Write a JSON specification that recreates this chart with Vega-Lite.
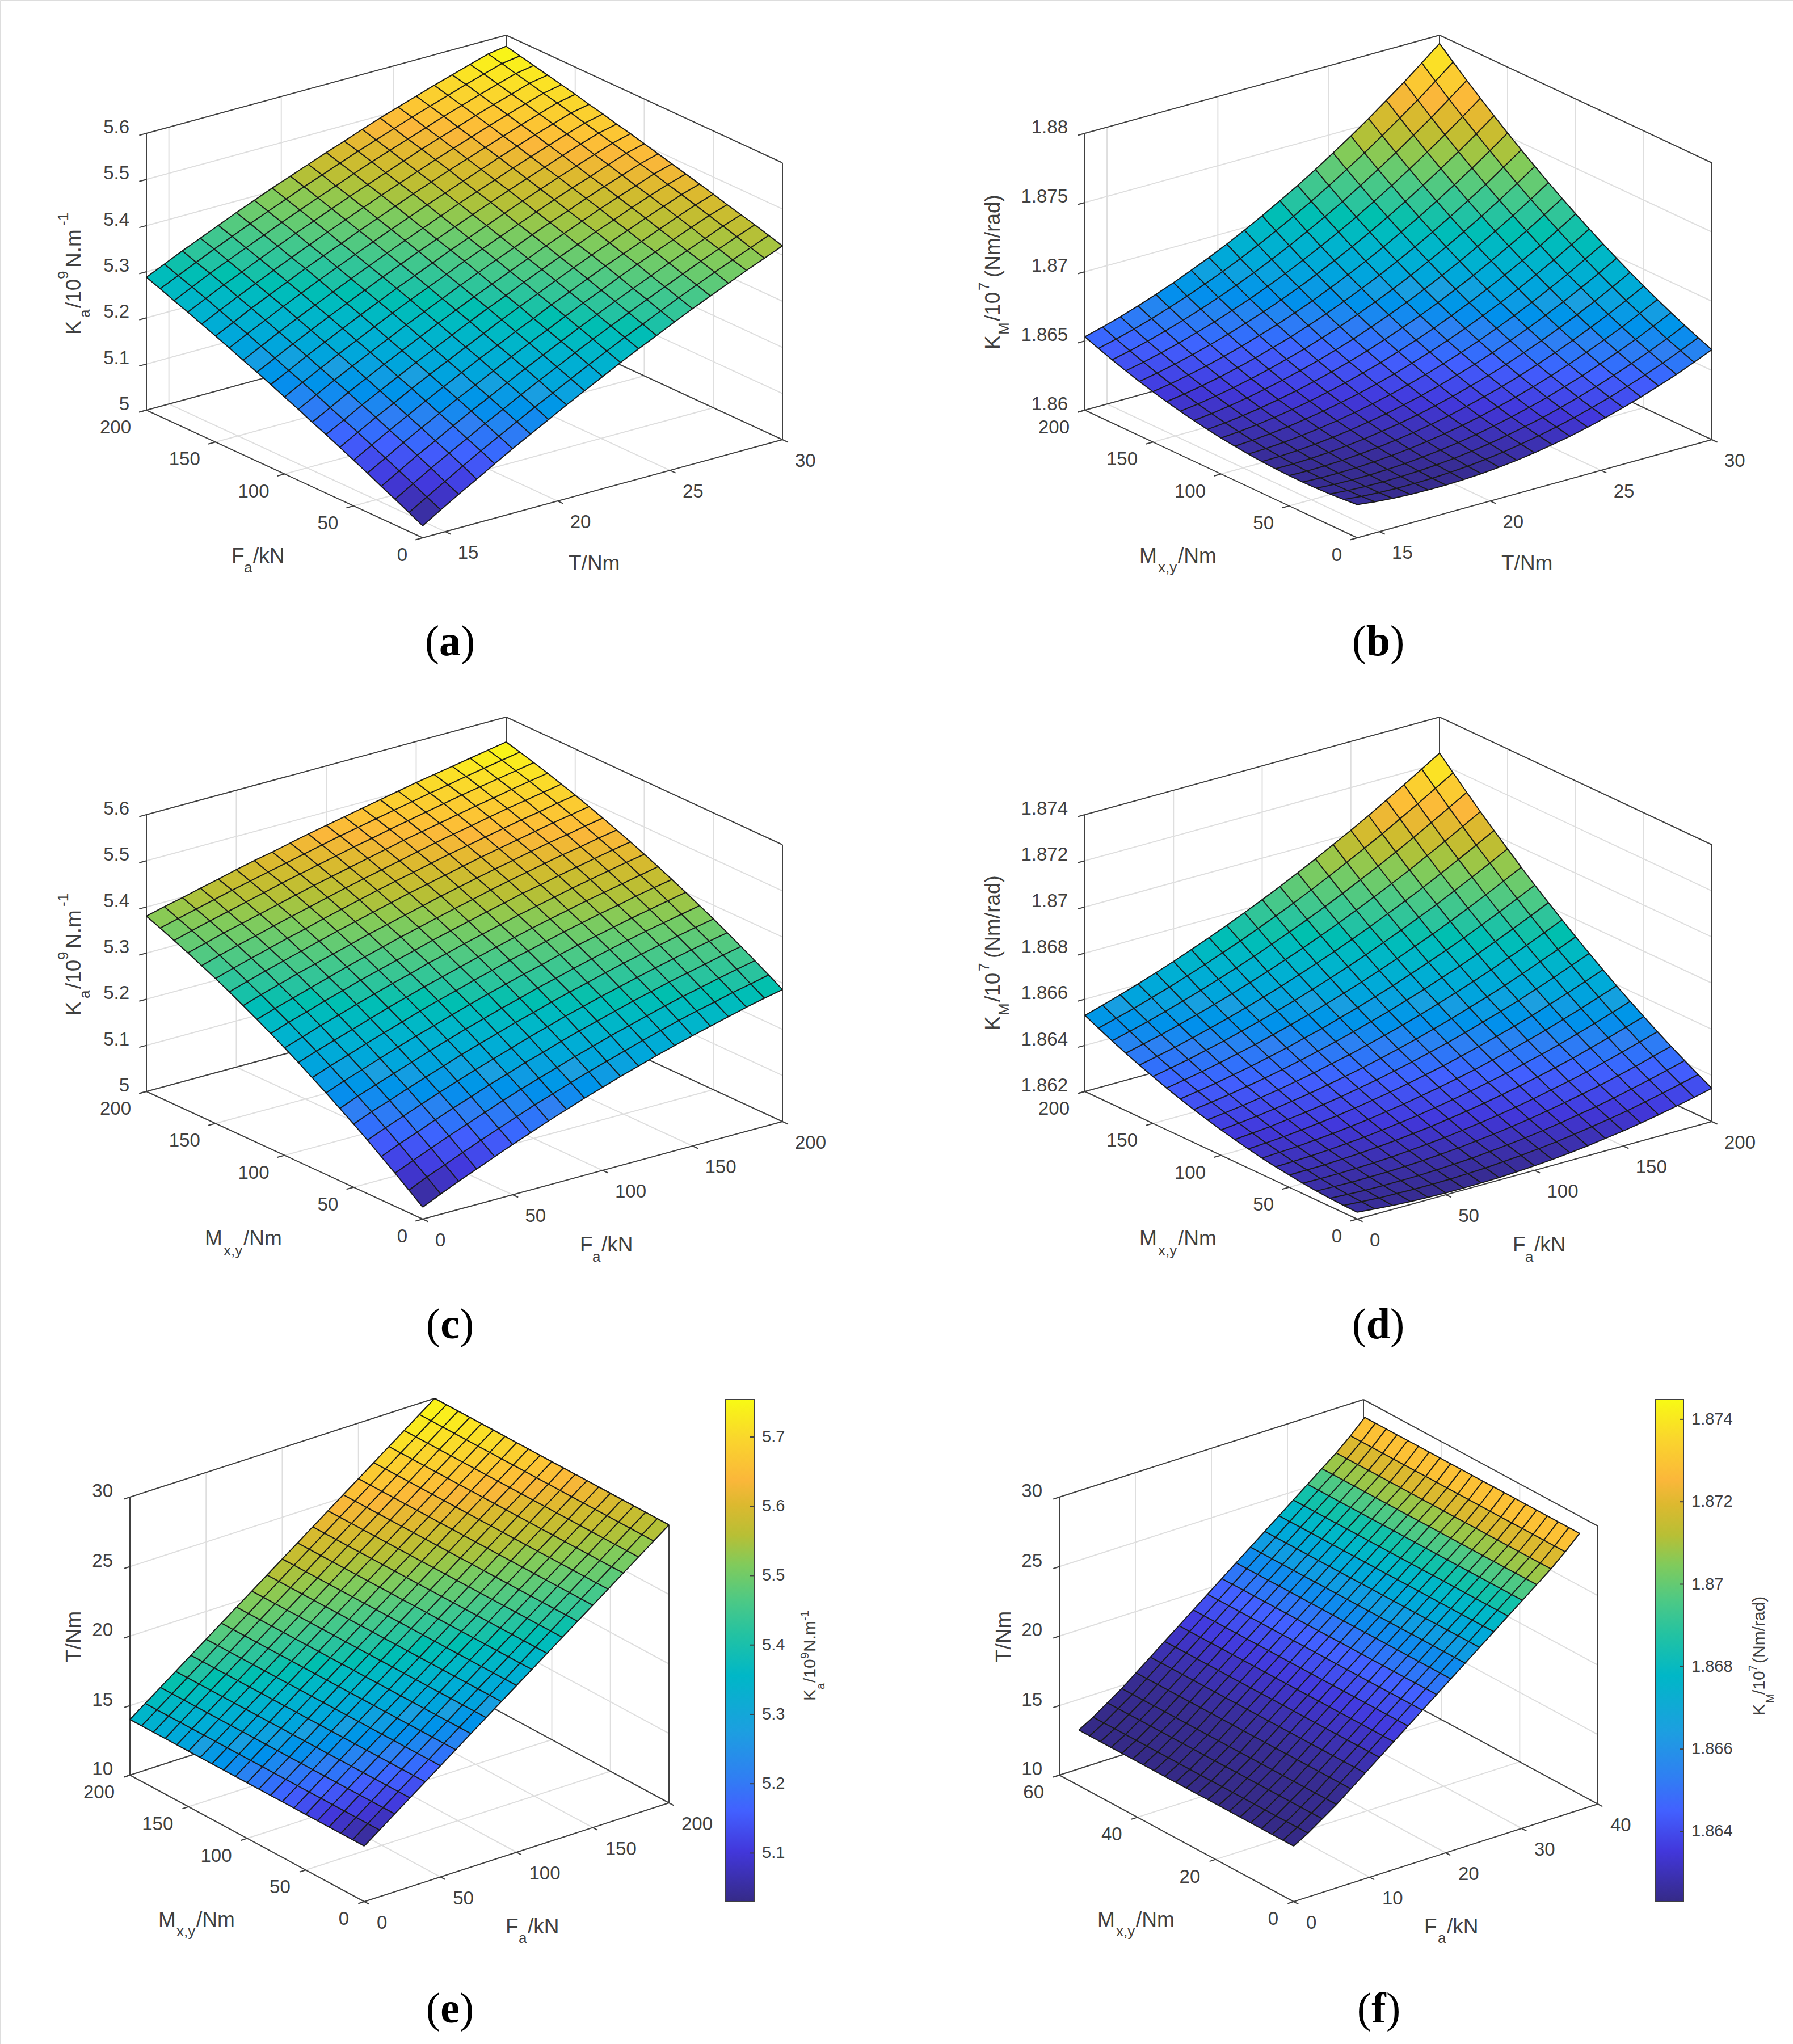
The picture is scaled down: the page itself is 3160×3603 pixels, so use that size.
{"$schema":"https://vega.github.io/schema/vega-lite/v6.json","width":3160,"height":3603,"padding":0,"autosize":"none","background":"white",
"params":[{"name":"P","value":{
"a":{"ox":745,"oy":948,"ux":634,"uy":-173,"vx":-487,"vy":-225,"wy":-488,"x0":14,"x1":30,"y0":0,"y1":200,"z0":5,"z1":5.6,"c0":5.026,"c1":5.576,"ys":10},
"b":{"ox":2392,"oy":948,"ux":625,"uy":-173,"vx":-480,"vy":-225,"wy":-488,"x0":14,"x1":30,"y0":0,"y1":200,"z0":1.86,"z1":1.88,"c0":1.8619,"c1":1.8794,"ys":10},
"c":{"ox":745,"oy":2149,"ux":634,"uy":-172,"vx":-487,"vy":-225,"wy":-488,"x0":0,"x1":200,"y0":0,"y1":200,"z0":5,"z1":5.6,"c0":5.026,"c1":5.546,"ys":10},
"d":{"ox":2392,"oy":2149,"ux":625,"uy":-172,"vx":-480,"vy":-225,"wy":-488,"x0":0,"x1":200,"y0":0,"y1":200,"z0":1.862,"z1":1.874,"c0":1.862,"c1":1.87245,"ys":10},
"e":{"ox":642,"oy":3352,"ux":537,"uy":-174,"vx":-413,"vy":-223,"wy":-490,"x0":0,"x1":200,"y0":0,"y1":200,"z0":10,"z1":30,"c0":5.03,"c1":5.754,"ys":10,"bx0":1278,"bx1":1329,"by0":3352,"by1":2467},
"f":{"ox":2280,"oy":3352,"ux":536,"uy":-172,"vx":-413,"vy":-223,"wy":-490,"x0":0,"x1":40,"y0":0,"y1":60,"z0":10,"z1":30,"c0":1.8623,"c1":1.87448,"ys":2.75,"bx0":2917,"bx1":2967,"by0":3352,"by1":2467}
}}],
"datasets":{
"surf":[
{"p":"a","X":14,"K":[5.026,5.041,5.056,5.07,5.085,5.099,5.113,5.127,5.14,5.154,5.167,5.18,5.193,5.205,5.218,5.23,5.242,5.254,5.265,5.277,5.288]},
{"p":"a","X":14.8,"K":[5.05,5.064,5.079,5.093,5.107,5.121,5.135,5.148,5.161,5.175,5.188,5.2,5.213,5.225,5.238,5.249,5.261,5.273,5.284,5.295,5.306]},
{"p":"a","X":15.6,"K":[5.073,5.087,5.102,5.116,5.13,5.143,5.157,5.17,5.183,5.196,5.208,5.221,5.233,5.245,5.257,5.269,5.28,5.292,5.303,5.313,5.324]},
{"p":"a","X":16.4,"K":[5.095,5.11,5.124,5.137,5.151,5.164,5.177,5.19,5.203,5.216,5.228,5.24,5.252,5.264,5.276,5.287,5.298,5.309,5.32,5.331,5.341]},
{"p":"a","X":17.2,"K":[5.118,5.132,5.145,5.159,5.172,5.185,5.198,5.21,5.223,5.235,5.247,5.259,5.271,5.282,5.294,5.305,5.316,5.327,5.337,5.348,5.358]},
{"p":"a","X":18,"K":[5.14,5.153,5.167,5.18,5.193,5.205,5.218,5.23,5.242,5.254,5.266,5.278,5.289,5.3,5.312,5.323,5.333,5.344,5.354,5.365,5.375]},
{"p":"a","X":18.8,"K":[5.161,5.174,5.187,5.2,5.212,5.225,5.237,5.249,5.261,5.273,5.285,5.296,5.307,5.318,5.329,5.34,5.35,5.361,5.371,5.381,5.391]},
{"p":"a","X":19.6,"K":[5.182,5.195,5.208,5.22,5.232,5.245,5.256,5.268,5.28,5.291,5.303,5.314,5.325,5.335,5.346,5.356,5.367,5.377,5.387,5.397,5.407]},
{"p":"a","X":20.4,"K":[5.203,5.215,5.228,5.24,5.252,5.263,5.275,5.287,5.298,5.309,5.32,5.331,5.342,5.352,5.363,5.373,5.383,5.393,5.403,5.413,5.422]},
{"p":"a","X":21.2,"K":[5.223,5.235,5.247,5.259,5.271,5.282,5.294,5.305,5.316,5.327,5.337,5.348,5.359,5.369,5.379,5.389,5.399,5.409,5.418,5.428,5.437]},
{"p":"a","X":22,"K":[5.243,5.255,5.267,5.278,5.289,5.3,5.312,5.322,5.333,5.344,5.355,5.365,5.375,5.385,5.395,5.405,5.415,5.424,5.434,5.443,5.452]},
{"p":"a","X":22.8,"K":[5.263,5.274,5.286,5.297,5.308,5.319,5.329,5.34,5.35,5.361,5.371,5.381,5.391,5.401,5.411,5.421,5.43,5.439,5.449,5.458,5.466]},
{"p":"a","X":23.6,"K":[5.282,5.293,5.304,5.315,5.326,5.336,5.347,5.357,5.367,5.377,5.387,5.397,5.407,5.417,5.426,5.436,5.445,5.454,5.463,5.472,5.481]},
{"p":"a","X":24.4,"K":[5.3,5.311,5.322,5.333,5.343,5.354,5.364,5.374,5.384,5.394,5.403,5.413,5.423,5.432,5.441,5.451,5.46,5.469,5.477,5.486,5.495]},
{"p":"a","X":25.2,"K":[5.319,5.329,5.34,5.35,5.361,5.371,5.381,5.39,5.4,5.41,5.419,5.429,5.438,5.447,5.456,5.465,5.474,5.483,5.491,5.5,5.508]},
{"p":"a","X":26,"K":[5.337,5.347,5.357,5.367,5.378,5.387,5.397,5.407,5.416,5.425,5.435,5.444,5.453,5.462,5.471,5.479,5.488,5.496,5.505,5.513,5.521]},
{"p":"a","X":26.8,"K":[5.354,5.364,5.374,5.384,5.394,5.403,5.413,5.422,5.432,5.441,5.45,5.459,5.467,5.476,5.485,5.493,5.502,5.51,5.518,5.526,5.534]},
{"p":"a","X":27.6,"K":[5.371,5.381,5.391,5.4,5.41,5.419,5.429,5.438,5.447,5.456,5.464,5.473,5.482,5.49,5.499,5.507,5.515,5.523,5.531,5.539,5.546]},
{"p":"a","X":28.4,"K":[5.388,5.397,5.407,5.416,5.426,5.435,5.444,5.453,5.461,5.47,5.479,5.487,5.496,5.504,5.512,5.52,5.528,5.535,5.543,5.551,5.558]},
{"p":"a","X":29.2,"K":[5.404,5.413,5.423,5.432,5.441,5.45,5.459,5.467,5.476,5.484,5.493,5.501,5.509,5.517,5.525,5.533,5.54,5.548,5.555,5.563,5.57]},
{"p":"a","X":30,"K":[5.42,5.429,5.438,5.446,5.454,5.463,5.471,5.479,5.487,5.495,5.503,5.511,5.518,5.526,5.533,5.541,5.548,5.555,5.562,5.569,5.576]},
{"p":"b","X":14,"K":[1.8624,1.86231,1.86224,1.8622,1.86218,1.86219,1.86222,1.86228,1.86236,1.86247,1.8626,1.86276,1.86294,1.86315,1.86338,1.86364,1.86392,1.86423,1.86456,1.86492,1.8653]},
{"p":"b","X":14.8,"K":[1.86225,1.86218,1.86214,1.86212,1.86213,1.86216,1.86222,1.8623,1.86241,1.86254,1.8627,1.86288,1.86309,1.86332,1.86358,1.86386,1.86417,1.8645,1.86486,1.86524,1.86565]},
{"p":"b","X":15.6,"K":[1.86214,1.8621,1.86208,1.86209,1.86212,1.86218,1.86226,1.86237,1.8625,1.86266,1.86284,1.86305,1.86328,1.86354,1.86382,1.86413,1.86446,1.86482,1.8652,1.86561,1.86604]},
{"p":"b","X":16.4,"K":[1.86207,1.86205,1.86206,1.86209,1.86215,1.86223,1.86234,1.86247,1.86263,1.86281,1.86302,1.86325,1.86351,1.86379,1.8641,1.86443,1.86479,1.86517,1.86558,1.86601,1.86647]},
{"p":"b","X":17.2,"K":[1.86204,1.86205,1.86208,1.86214,1.86222,1.86233,1.86246,1.86262,1.8628,1.86301,1.86324,1.8635,1.86378,1.86409,1.86442,1.86478,1.86516,1.86557,1.866,1.86646,1.86694]},
{"p":"b","X":18,"K":[1.86204,1.86207,1.86213,1.86221,1.86232,1.86245,1.86261,1.86279,1.863,1.86323,1.86349,1.86377,1.86408,1.86441,1.86477,1.86515,1.86556,1.86599,1.86645,1.86693,1.86744]},
{"p":"b","X":18.8,"K":[1.86208,1.86214,1.86222,1.86233,1.86246,1.86262,1.8628,1.86301,1.86324,1.8635,1.86378,1.86409,1.86442,1.86478,1.86516,1.86557,1.866,1.86646,1.86694,1.86745,1.86798]},
{"p":"b","X":19.6,"K":[1.86215,1.86223,1.86234,1.86247,1.86263,1.86281,1.86302,1.86325,1.86351,1.86379,1.8641,1.86443,1.86479,1.86517,1.86558,1.86601,1.86647,1.86695,1.86746,1.86799,1.86855]},
{"p":"b","X":20.4,"K":[1.86226,1.86237,1.8625,1.86266,1.86284,1.86305,1.86328,1.86354,1.86382,1.86413,1.86446,1.86482,1.8652,1.86561,1.86604,1.8665,1.86698,1.86749,1.86802,1.86858,1.86916]},
{"p":"b","X":21.2,"K":[1.86241,1.86254,1.8627,1.86288,1.86309,1.86332,1.86358,1.86386,1.86417,1.8645,1.86486,1.86524,1.86565,1.86608,1.86654,1.86702,1.86753,1.86806,1.86862,1.8692,1.86981]},
{"p":"b","X":22,"K":[1.8626,1.86276,1.86294,1.86315,1.86338,1.86364,1.86392,1.86423,1.86456,1.86492,1.8653,1.86571,1.86614,1.8666,1.86708,1.86759,1.86812,1.86868,1.86926,1.86987,1.8705]},
{"p":"b","X":22.8,"K":[1.86283,1.86301,1.86322,1.86345,1.86371,1.86399,1.8643,1.86463,1.86499,1.86537,1.86578,1.86621,1.86667,1.86715,1.86766,1.86819,1.86875,1.86933,1.86994,1.87057,1.87123]},
{"p":"b","X":23.6,"K":[1.86308,1.86329,1.86352,1.86378,1.86406,1.86437,1.8647,1.86506,1.86544,1.86585,1.86628,1.86674,1.86722,1.86773,1.86826,1.86882,1.8694,1.87001,1.87064,1.8713,1.87198]},
{"p":"b","X":24.4,"K":[1.86338,1.86361,1.86387,1.86415,1.86446,1.86479,1.86515,1.86553,1.86594,1.86637,1.86683,1.86731,1.86782,1.86835,1.86891,1.86949,1.8701,1.87073,1.87139,1.87207,1.87278]},
{"p":"b","X":25.2,"K":[1.86372,1.86398,1.86426,1.86457,1.8649,1.86526,1.86564,1.86605,1.86648,1.86694,1.86742,1.86793,1.86846,1.86902,1.8696,1.87021,1.87084,1.8715,1.87218,1.87289,1.87362]},
{"p":"b","X":26,"K":[1.86409,1.86437,1.86468,1.86501,1.86537,1.86575,1.86616,1.86659,1.86705,1.86753,1.86804,1.86857,1.86913,1.86971,1.87032,1.87095,1.87161,1.87229,1.873,1.87373,1.87449]},
{"p":"b","X":26.8,"K":[1.8645,1.86481,1.86514,1.8655,1.86588,1.86629,1.86672,1.86718,1.86766,1.86817,1.8687,1.86926,1.86984,1.87045,1.87108,1.87174,1.87242,1.87313,1.87386,1.87462,1.8754]},
{"p":"b","X":27.6,"K":[1.86495,1.86528,1.86564,1.86602,1.86643,1.86686,1.86732,1.8678,1.86831,1.86884,1.8694,1.86998,1.87059,1.87122,1.87188,1.87256,1.87327,1.874,1.87476,1.87554,1.87635]},
{"p":"b","X":28.4,"K":[1.86542,1.86578,1.86616,1.86657,1.867,1.86746,1.86794,1.86846,1.86898,1.86954,1.87012,1.87073,1.87136,1.87202,1.8727,1.87341,1.87414,1.8749,1.87568,1.87649,1.87732]},
{"p":"b","X":29.2,"K":[1.86595,1.86633,1.86673,1.86717,1.86763,1.86811,1.86862,1.86915,1.86971,1.87029,1.8709,1.87153,1.87219,1.87287,1.87358,1.87431,1.87507,1.87585,1.87666,1.87749,1.87835]},
{"p":"b","X":30,"K":[1.8665,1.86691,1.86734,1.8678,1.86828,1.86879,1.86932,1.86988,1.87046,1.87107,1.8717,1.87236,1.87304,1.87375,1.87448,1.87524,1.87602,1.87683,1.87766,1.87852,1.8794]},
{"p":"c","X":0,"K":[5.026,5.049,5.072,5.094,5.116,5.137,5.157,5.177,5.196,5.215,5.233,5.25,5.267,5.283,5.299,5.314,5.328,5.342,5.355,5.368,5.38]},
{"p":"c","X":10,"K":[5.044,5.067,5.089,5.111,5.132,5.153,5.173,5.192,5.211,5.229,5.246,5.264,5.28,5.296,5.311,5.326,5.34,5.353,5.366,5.378,5.39]},
{"p":"c","X":20,"K":[5.061,5.083,5.105,5.126,5.147,5.167,5.187,5.206,5.224,5.242,5.26,5.276,5.292,5.308,5.323,5.337,5.351,5.364,5.376,5.388,5.399]},
{"p":"c","X":30,"K":[5.077,5.099,5.121,5.142,5.162,5.182,5.201,5.22,5.238,5.255,5.272,5.289,5.304,5.32,5.334,5.348,5.361,5.374,5.386,5.398,5.409]},
{"p":"c","X":40,"K":[5.093,5.115,5.136,5.157,5.177,5.196,5.215,5.234,5.251,5.268,5.285,5.301,5.316,5.331,5.345,5.359,5.372,5.384,5.396,5.408,5.418]},
{"p":"c","X":50,"K":[5.109,5.13,5.151,5.171,5.191,5.21,5.229,5.247,5.264,5.281,5.297,5.313,5.328,5.342,5.356,5.369,5.382,5.394,5.406,5.417,5.428]},
{"p":"c","X":60,"K":[5.124,5.145,5.166,5.186,5.205,5.224,5.242,5.259,5.277,5.293,5.309,5.324,5.339,5.353,5.367,5.38,5.392,5.404,5.416,5.426,5.437]},
{"p":"c","X":70,"K":[5.139,5.16,5.18,5.199,5.218,5.237,5.255,5.272,5.289,5.305,5.32,5.335,5.35,5.364,5.377,5.39,5.402,5.414,5.425,5.435,5.445]},
{"p":"c","X":80,"K":[5.153,5.173,5.193,5.213,5.231,5.249,5.267,5.284,5.3,5.316,5.332,5.346,5.361,5.374,5.387,5.4,5.412,5.423,5.434,5.444,5.454]},
{"p":"c","X":90,"K":[5.167,5.187,5.206,5.225,5.244,5.262,5.279,5.296,5.312,5.327,5.342,5.357,5.371,5.384,5.397,5.41,5.421,5.432,5.443,5.453,5.463]},
{"p":"c","X":100,"K":[5.18,5.2,5.219,5.238,5.256,5.273,5.29,5.307,5.323,5.338,5.353,5.367,5.381,5.394,5.407,5.419,5.43,5.441,5.452,5.462,5.471]},
{"p":"c","X":110,"K":[5.193,5.212,5.231,5.25,5.268,5.285,5.302,5.318,5.334,5.349,5.363,5.377,5.391,5.404,5.416,5.428,5.439,5.45,5.46,5.47,5.479]},
{"p":"c","X":120,"K":[5.205,5.224,5.243,5.261,5.279,5.296,5.312,5.328,5.344,5.359,5.373,5.387,5.4,5.413,5.425,5.437,5.448,5.459,5.469,5.478,5.487]},
{"p":"c","X":130,"K":[5.217,5.236,5.254,5.272,5.29,5.306,5.323,5.339,5.354,5.369,5.383,5.396,5.41,5.422,5.434,5.446,5.457,5.467,5.477,5.486,5.495]},
{"p":"c","X":140,"K":[5.228,5.247,5.265,5.283,5.3,5.317,5.333,5.349,5.364,5.378,5.392,5.406,5.419,5.431,5.443,5.454,5.465,5.475,5.485,5.494,5.503]},
{"p":"c","X":150,"K":[5.239,5.258,5.276,5.293,5.31,5.327,5.343,5.358,5.373,5.387,5.401,5.414,5.427,5.439,5.451,5.462,5.473,5.483,5.493,5.502,5.511]},
{"p":"c","X":160,"K":[5.249,5.268,5.286,5.303,5.32,5.336,5.352,5.367,5.382,5.396,5.41,5.423,5.436,5.448,5.459,5.47,5.481,5.491,5.501,5.509,5.518]},
{"p":"c","X":170,"K":[5.259,5.277,5.295,5.312,5.329,5.345,5.361,5.376,5.39,5.404,5.418,5.431,5.444,5.456,5.467,5.478,5.489,5.498,5.508,5.517,5.525]},
{"p":"c","X":180,"K":[5.269,5.287,5.304,5.321,5.338,5.354,5.369,5.384,5.399,5.412,5.426,5.439,5.451,5.463,5.475,5.485,5.496,5.506,5.515,5.524,5.532]},
{"p":"c","X":190,"K":[5.278,5.295,5.313,5.33,5.346,5.362,5.377,5.392,5.407,5.42,5.434,5.447,5.459,5.471,5.482,5.493,5.503,5.513,5.522,5.531,5.539]},
{"p":"c","X":200,"K":[5.286,5.304,5.321,5.338,5.354,5.37,5.385,5.4,5.414,5.428,5.441,5.454,5.466,5.478,5.489,5.5,5.51,5.52,5.529,5.538,5.546]},
{"p":"d","X":0,"K":[1.8623,1.86232,1.86235,1.86239,1.86245,1.86253,1.86261,1.86271,1.86283,1.86296,1.8631,1.86326,1.86343,1.86361,1.86381,1.86403,1.86425,1.86449,1.86475,1.86502,1.8653]},
{"p":"d","X":10,"K":[1.86223,1.86227,1.86231,1.86237,1.86244,1.86254,1.86263,1.86275,1.86288,1.86303,1.86318,1.86336,1.86354,1.86374,1.86395,1.86419,1.86442,1.86468,1.86495,1.86524,1.86553]},
{"p":"d","X":20,"K":[1.86217,1.86222,1.86228,1.86235,1.86244,1.86255,1.86266,1.86279,1.86294,1.8631,1.86327,1.86346,1.86366,1.86387,1.8641,1.86435,1.8646,1.86487,1.86516,1.86546,1.86577]},
{"p":"d","X":30,"K":[1.86213,1.8622,1.86227,1.86236,1.86246,1.86259,1.86271,1.86286,1.86302,1.8632,1.86338,1.86359,1.8638,1.86403,1.86427,1.86454,1.8648,1.86509,1.86539,1.86571,1.86603]},
{"p":"d","X":40,"K":[1.8621,1.86218,1.86227,1.86237,1.86249,1.86263,1.86277,1.86293,1.86311,1.8633,1.8635,1.86372,1.86395,1.86419,1.86445,1.86473,1.86501,1.86531,1.86563,1.86596,1.8663]},
{"p":"d","X":50,"K":[1.86208,1.86218,1.86228,1.8624,1.86253,1.86269,1.86284,1.86302,1.86321,1.86342,1.86363,1.86387,1.86411,1.86437,1.86464,1.86494,1.86523,1.86555,1.86588,1.86623,1.86658]},
{"p":"d","X":60,"K":[1.86208,1.86219,1.86231,1.86244,1.86259,1.86276,1.86293,1.86312,1.86333,1.86355,1.86378,1.86403,1.86429,1.86456,1.86485,1.86516,1.86547,1.8658,1.86615,1.86651,1.86688]},
{"p":"d","X":70,"K":[1.86209,1.86222,1.86235,1.8625,1.86266,1.86285,1.86303,1.86324,1.86346,1.8637,1.86394,1.86421,1.86448,1.86477,1.86507,1.8654,1.86572,1.86607,1.86643,1.86681,1.86719]},
{"p":"d","X":80,"K":[1.86211,1.86225,1.8624,1.86256,1.86274,1.86294,1.86314,1.86336,1.8636,1.86385,1.86411,1.86439,1.86468,1.86498,1.8653,1.86564,1.86598,1.86634,1.86672,1.86711,1.86751]},
{"p":"d","X":90,"K":[1.86215,1.86231,1.86247,1.86265,1.86284,1.86306,1.86327,1.86351,1.86376,1.86403,1.8643,1.8646,1.8649,1.86522,1.86555,1.86591,1.86626,1.86664,1.86703,1.86744,1.86785]},
{"p":"d","X":100,"K":[1.8622,1.86237,1.86255,1.86274,1.86295,1.86318,1.86341,1.86366,1.86393,1.86421,1.8645,1.86481,1.86513,1.86546,1.86581,1.86618,1.86655,1.86694,1.86735,1.86777,1.8682]},
{"p":"d","X":110,"K":[1.86226,1.86245,1.86264,1.86285,1.86307,1.86332,1.86356,1.86383,1.86411,1.86441,1.86471,1.86504,1.86537,1.86572,1.86608,1.86647,1.86685,1.86726,1.86768,1.86812,1.86856]},
{"p":"d","X":120,"K":[1.86234,1.86254,1.86275,1.86297,1.86321,1.86347,1.86373,1.86401,1.86431,1.86462,1.86494,1.86528,1.86563,1.86599,1.86637,1.86677,1.86717,1.86759,1.86803,1.86848,1.86894]},
{"p":"d","X":130,"K":[1.86243,1.86265,1.86287,1.86311,1.86336,1.86364,1.86391,1.86421,1.86452,1.86485,1.86518,1.86554,1.8659,1.86628,1.86667,1.86709,1.8675,1.86794,1.86839,1.86886,1.86933]},
{"p":"d","X":140,"K":[1.86254,1.86277,1.86301,1.86326,1.86353,1.86382,1.86411,1.86442,1.86475,1.86509,1.86544,1.86581,1.86619,1.86658,1.86699,1.86742,1.86785,1.8683,1.86877,1.86925,1.86974]},
{"p":"d","X":150,"K":[1.86265,1.8629,1.86315,1.86342,1.8637,1.86401,1.86431,1.86464,1.86498,1.86534,1.8657,1.86609,1.86648,1.86689,1.86731,1.86776,1.8682,1.86867,1.86915,1.86965,1.87015]},
{"p":"d","X":160,"K":[1.86278,1.86304,1.86331,1.86359,1.86389,1.86421,1.86453,1.86487,1.86523,1.8656,1.86598,1.86638,1.86679,1.86721,1.86765,1.86811,1.86857,1.86905,1.86955,1.87006,1.87058]},
{"p":"d","X":170,"K":[1.86293,1.86321,1.86349,1.86379,1.8641,1.86444,1.86477,1.86513,1.8655,1.86589,1.86628,1.8667,1.86712,1.86756,1.86801,1.86849,1.86896,1.86946,1.86997,1.8705,1.87103]},
{"p":"d","X":180,"K":[1.86309,1.86338,1.86368,1.86399,1.86432,1.86467,1.86502,1.86539,1.86578,1.86618,1.86659,1.86702,1.86746,1.86791,1.86838,1.86887,1.86936,1.86987,1.8704,1.87094,1.87149]},
{"p":"d","X":190,"K":[1.86326,1.86357,1.86388,1.86421,1.86455,1.86492,1.86528,1.86567,1.86607,1.86649,1.86691,1.86736,1.86781,1.86828,1.86876,1.86927,1.86977,1.8703,1.87084,1.8714,1.87196]},
{"p":"d","X":200,"K":[1.86344,1.86376,1.86409,1.86443,1.86479,1.86517,1.86555,1.86595,1.86637,1.8668,1.86724,1.8677,1.86817,1.86865,1.86915,1.86967,1.87019,1.87073,1.87129,1.87186,1.87244]},
{"p":"e","X":0,"T":14,"K":[5.03,5.05,5.06,5.08,5.1,5.11,5.13,5.15,5.16,5.18,5.19,5.21,5.23,5.24,5.26,5.27,5.28,5.3,5.31,5.33,5.34]},
{"p":"e","X":10,"T":14.8,"K":[5.06,5.07,5.09,5.11,5.12,5.14,5.16,5.17,5.19,5.2,5.22,5.24,5.25,5.27,5.28,5.3,5.31,5.33,5.34,5.35,5.37]},
{"p":"e","X":20,"T":15.6,"K":[5.09,5.1,5.12,5.14,5.15,5.17,5.18,5.2,5.22,5.23,5.25,5.26,5.28,5.29,5.31,5.32,5.34,5.35,5.37,5.38,5.39]},
{"p":"e","X":30,"T":16.4,"K":[5.11,5.13,5.15,5.16,5.18,5.2,5.21,5.23,5.24,5.26,5.27,5.29,5.3,5.32,5.33,5.35,5.36,5.38,5.39,5.41,5.42]},
{"p":"e","X":40,"T":17.2,"K":[5.14,5.16,5.17,5.19,5.21,5.22,5.24,5.25,5.27,5.28,5.3,5.31,5.33,5.34,5.36,5.37,5.39,5.4,5.42,5.43,5.45]},
{"p":"e","X":50,"T":18,"K":[5.17,5.18,5.2,5.22,5.23,5.25,5.26,5.28,5.29,5.31,5.32,5.34,5.35,5.37,5.38,5.4,5.41,5.42,5.44,5.45,5.47]},
{"p":"e","X":60,"T":18.8,"K":[5.2,5.21,5.23,5.24,5.26,5.27,5.29,5.3,5.32,5.33,5.35,5.36,5.38,5.39,5.41,5.42,5.43,5.45,5.46,5.48,5.49]},
{"p":"e","X":70,"T":19.6,"K":[5.22,5.24,5.25,5.27,5.28,5.3,5.31,5.33,5.34,5.36,5.37,5.39,5.4,5.42,5.43,5.44,5.46,5.47,5.49,5.5,5.51]},
{"p":"e","X":80,"T":20.4,"K":[5.25,5.27,5.28,5.3,5.31,5.33,5.34,5.36,5.37,5.38,5.4,5.41,5.43,5.44,5.45,5.47,5.48,5.49,5.51,5.52,5.53]},
{"p":"e","X":90,"T":21.2,"K":[5.28,5.29,5.31,5.32,5.34,5.35,5.36,5.38,5.39,5.41,5.42,5.43,5.45,5.46,5.47,5.49,5.5,5.51,5.53,5.54,5.55]},
{"p":"e","X":100,"T":22,"K":[5.31,5.32,5.33,5.35,5.36,5.38,5.39,5.4,5.42,5.43,5.44,5.46,5.47,5.48,5.5,5.51,5.52,5.54,5.55,5.56,5.57]},
{"p":"e","X":110,"T":22.8,"K":[5.33,5.35,5.36,5.37,5.39,5.4,5.41,5.43,5.44,5.45,5.47,5.48,5.49,5.51,5.52,5.53,5.54,5.56,5.57,5.58,5.59]},
{"p":"e","X":120,"T":23.6,"K":[5.36,5.37,5.38,5.4,5.41,5.43,5.44,5.45,5.47,5.48,5.49,5.5,5.52,5.53,5.54,5.55,5.57,5.58,5.59,5.6,5.61]},
{"p":"e","X":130,"T":24.4,"K":[5.38,5.4,5.41,5.42,5.44,5.45,5.46,5.48,5.49,5.5,5.51,5.53,5.54,5.55,5.56,5.58,5.59,5.6,5.61,5.62,5.63]},
{"p":"e","X":140,"T":25.2,"K":[5.41,5.42,5.44,5.45,5.46,5.48,5.49,5.5,5.51,5.53,5.54,5.55,5.56,5.57,5.59,5.6,5.61,5.62,5.63,5.64,5.65]},
{"p":"e","X":150,"T":26,"K":[5.44,5.45,5.46,5.47,5.49,5.5,5.51,5.52,5.54,5.55,5.56,5.57,5.58,5.6,5.61,5.62,5.63,5.64,5.65,5.66,5.67]},
{"p":"e","X":160,"T":26.8,"K":[5.46,5.47,5.49,5.5,5.51,5.52,5.53,5.55,5.56,5.57,5.58,5.59,5.61,5.62,5.63,5.64,5.65,5.66,5.67,5.68,5.69]},
{"p":"e","X":170,"T":27.6,"K":[5.49,5.5,5.51,5.52,5.53,5.55,5.56,5.57,5.58,5.59,5.6,5.62,5.63,5.64,5.65,5.66,5.67,5.68,5.69,5.7,5.71]},
{"p":"e","X":180,"T":28.4,"K":[5.51,5.52,5.53,5.55,5.56,5.57,5.58,5.59,5.6,5.61,5.63,5.64,5.65,5.66,5.67,5.68,5.69,5.7,5.71,5.72,5.73]},
{"p":"e","X":190,"T":29.2,"K":[5.54,5.55,5.56,5.57,5.58,5.59,5.6,5.61,5.63,5.64,5.65,5.66,5.67,5.68,5.69,5.7,5.71,5.72,5.73,5.73,5.74]},
{"p":"e","X":200,"T":30,"K":[5.56,5.57,5.58,5.59,5.6,5.62,5.63,5.64,5.65,5.66,5.67,5.68,5.69,5.7,5.71,5.72,5.72,5.73,5.74,5.74,5.75]},
{"p":"f","X":0,"T":14,"K":[1.8623,1.8623,1.8623,1.8623,1.8623,1.8623,1.8623,1.8623,1.8623,1.8623,1.8623,1.8623,1.8623,1.8623,1.8623,1.8623,1.8623,1.8623,1.8623,1.8623,1.8623]},
{"p":"f","X":1.88,"T":14.6,"K":[1.8623,1.8623,1.8623,1.8623,1.8623,1.8623,1.8623,1.8623,1.8623,1.8623,1.8623,1.8623,1.8623,1.8623,1.8623,1.8623,1.8623,1.8623,1.8623,1.8623,1.8623]},
{"p":"f","X":3.76,"T":15.3,"K":[1.8624,1.8624,1.8624,1.8624,1.8624,1.8624,1.8624,1.8624,1.8624,1.8624,1.8624,1.8624,1.8624,1.8624,1.8624,1.8624,1.8624,1.8624,1.8624,1.8624,1.8624]},
{"p":"f","X":5.64,"T":16,"K":[1.8624,1.8624,1.8624,1.8624,1.8624,1.8624,1.8624,1.8624,1.8624,1.8624,1.8624,1.8624,1.8624,1.8624,1.8624,1.8624,1.8624,1.8624,1.8624,1.8624,1.8624]},
{"p":"f","X":7.52,"T":16.8,"K":[1.8625,1.8625,1.8625,1.8625,1.8625,1.8625,1.8625,1.8625,1.8625,1.8625,1.8625,1.8625,1.8625,1.8625,1.8625,1.8625,1.8625,1.8625,1.8625,1.8625,1.8625]},
{"p":"f","X":9.4,"T":17.6,"K":[1.8628,1.8628,1.8628,1.8628,1.8628,1.8628,1.8628,1.8628,1.8628,1.8628,1.8628,1.8628,1.8628,1.8628,1.8628,1.8628,1.8628,1.8628,1.8628,1.8628,1.8628]},
{"p":"f","X":11.28,"T":18.4,"K":[1.863,1.863,1.863,1.863,1.863,1.863,1.863,1.863,1.863,1.863,1.863,1.863,1.863,1.863,1.863,1.863,1.863,1.863,1.863,1.863,1.863]},
{"p":"f","X":13.16,"T":19.2,"K":[1.8634,1.8634,1.8634,1.8634,1.8634,1.8634,1.8634,1.8634,1.8634,1.8634,1.8634,1.8634,1.8634,1.8634,1.8634,1.8634,1.8634,1.8634,1.8634,1.8634,1.8634]},
{"p":"f","X":15.04,"T":20,"K":[1.8638,1.8638,1.8638,1.8638,1.8638,1.8638,1.8638,1.8638,1.8638,1.8638,1.8638,1.8638,1.8638,1.8638,1.8638,1.8638,1.8638,1.8638,1.8638,1.8638,1.8638]},
{"p":"f","X":16.92,"T":20.8,"K":[1.8643,1.8643,1.8643,1.8643,1.8643,1.8643,1.8643,1.8643,1.8643,1.8643,1.8643,1.8643,1.8643,1.8643,1.8643,1.8643,1.8643,1.8643,1.8643,1.8643,1.8643]},
{"p":"f","X":18.8,"T":21.6,"K":[1.8647,1.8647,1.8647,1.8647,1.8647,1.8647,1.8647,1.8647,1.8647,1.8647,1.8647,1.8647,1.8647,1.8647,1.8647,1.8647,1.8647,1.8647,1.8647,1.8647,1.8647]},
{"p":"f","X":20.68,"T":22.4,"K":[1.8654,1.8654,1.8654,1.8654,1.8654,1.8654,1.8654,1.8654,1.8654,1.8654,1.8654,1.8654,1.8654,1.8654,1.8654,1.8654,1.8654,1.8654,1.8654,1.8654,1.8654]},
{"p":"f","X":22.56,"T":23.2,"K":[1.866,1.866,1.866,1.866,1.866,1.866,1.866,1.866,1.866,1.866,1.866,1.866,1.866,1.866,1.866,1.866,1.866,1.866,1.866,1.866,1.866]},
{"p":"f","X":24.44,"T":24,"K":[1.8666,1.8666,1.8666,1.8666,1.8666,1.8666,1.8666,1.8666,1.8666,1.8666,1.8666,1.8666,1.8666,1.8666,1.8666,1.8666,1.8666,1.8666,1.8666,1.8666,1.8666]},
{"p":"f","X":26.32,"T":24.8,"K":[1.8673,1.8673,1.8673,1.8673,1.8673,1.8673,1.8673,1.8673,1.8673,1.8673,1.8673,1.8673,1.8673,1.8673,1.8673,1.8673,1.8673,1.8673,1.8673,1.8673,1.8673]},
{"p":"f","X":28.2,"T":25.6,"K":[1.8682,1.8682,1.8682,1.8682,1.8682,1.8682,1.8682,1.8682,1.8682,1.8682,1.8682,1.8682,1.8682,1.8682,1.8682,1.8682,1.8682,1.8682,1.8682,1.8682,1.8682]},
{"p":"f","X":30.08,"T":26.4,"K":[1.869,1.869,1.869,1.869,1.869,1.869,1.869,1.869,1.869,1.869,1.869,1.869,1.869,1.869,1.869,1.869,1.869,1.869,1.869,1.869,1.869]},
{"p":"f","X":31.96,"T":27.2,"K":[1.8702,1.8702,1.8702,1.8702,1.8702,1.8702,1.8702,1.8702,1.8702,1.8702,1.8702,1.8702,1.8702,1.8702,1.8702,1.8702,1.8702,1.8702,1.8702,1.8702,1.8702]},
{"p":"f","X":33.84,"T":28,"K":[1.8714,1.8714,1.8714,1.8714,1.8714,1.8714,1.8714,1.8714,1.8714,1.8714,1.8714,1.8714,1.8714,1.8714,1.8714,1.8714,1.8714,1.8714,1.8714,1.8714,1.8714]},
{"p":"f","X":35.72,"T":28.9,"K":[1.8724,1.8724,1.8724,1.8724,1.8724,1.8724,1.8724,1.8724,1.8724,1.8724,1.8724,1.8724,1.8724,1.8724,1.8724,1.8724,1.8724,1.8724,1.8724,1.8724,1.8724]},
{"p":"f","X":37.6,"T":29.9,"K":[1.8733,1.8733,1.8733,1.8733,1.8733,1.8733,1.8733,1.8733,1.8733,1.8733,1.8733,1.8733,1.8733,1.8733,1.8733,1.8733,1.8733,1.8733,1.8733,1.8733,1.8733]}
],
"panels":[{"p":"a"},{"p":"b"},{"p":"c"},{"p":"d"},{"p":"e"},{"p":"f"}],
"ticks":[
{"p":"a","axis":"u","val":15},{"p":"a","axis":"u","val":20},{"p":"a","axis":"u","val":25},{"p":"a","axis":"u","val":30},
{"p":"a","axis":"v","val":0},{"p":"a","axis":"v","val":50},{"p":"a","axis":"v","val":100},{"p":"a","axis":"v","val":150},{"p":"a","axis":"v","val":200},
{"p":"a","axis":"w","val":5},{"p":"a","axis":"w","val":5.1},{"p":"a","axis":"w","val":5.2},{"p":"a","axis":"w","val":5.3},{"p":"a","axis":"w","val":5.4},{"p":"a","axis":"w","val":5.5},{"p":"a","axis":"w","val":5.6},
{"p":"b","axis":"u","val":15},{"p":"b","axis":"u","val":20},{"p":"b","axis":"u","val":25},{"p":"b","axis":"u","val":30},
{"p":"b","axis":"v","val":0},{"p":"b","axis":"v","val":50},{"p":"b","axis":"v","val":100},{"p":"b","axis":"v","val":150},{"p":"b","axis":"v","val":200},
{"p":"b","axis":"w","val":1.86},{"p":"b","axis":"w","val":1.865},{"p":"b","axis":"w","val":1.87},{"p":"b","axis":"w","val":1.875},{"p":"b","axis":"w","val":1.88},
{"p":"c","axis":"u","val":0},{"p":"c","axis":"u","val":50},{"p":"c","axis":"u","val":100},{"p":"c","axis":"u","val":150},{"p":"c","axis":"u","val":200},
{"p":"c","axis":"v","val":0},{"p":"c","axis":"v","val":50},{"p":"c","axis":"v","val":100},{"p":"c","axis":"v","val":150},{"p":"c","axis":"v","val":200},
{"p":"c","axis":"w","val":5},{"p":"c","axis":"w","val":5.1},{"p":"c","axis":"w","val":5.2},{"p":"c","axis":"w","val":5.3},{"p":"c","axis":"w","val":5.4},{"p":"c","axis":"w","val":5.5},{"p":"c","axis":"w","val":5.6},
{"p":"d","axis":"u","val":0},{"p":"d","axis":"u","val":50},{"p":"d","axis":"u","val":100},{"p":"d","axis":"u","val":150},{"p":"d","axis":"u","val":200},
{"p":"d","axis":"v","val":0},{"p":"d","axis":"v","val":50},{"p":"d","axis":"v","val":100},{"p":"d","axis":"v","val":150},{"p":"d","axis":"v","val":200},
{"p":"d","axis":"w","val":1.862},{"p":"d","axis":"w","val":1.864},{"p":"d","axis":"w","val":1.866},{"p":"d","axis":"w","val":1.868},{"p":"d","axis":"w","val":1.87},{"p":"d","axis":"w","val":1.872},{"p":"d","axis":"w","val":1.874},
{"p":"e","axis":"u","val":0},{"p":"e","axis":"u","val":50},{"p":"e","axis":"u","val":100},{"p":"e","axis":"u","val":150},{"p":"e","axis":"u","val":200},
{"p":"e","axis":"v","val":0},{"p":"e","axis":"v","val":50},{"p":"e","axis":"v","val":100},{"p":"e","axis":"v","val":150},{"p":"e","axis":"v","val":200},
{"p":"e","axis":"w","val":10},{"p":"e","axis":"w","val":15},{"p":"e","axis":"w","val":20},{"p":"e","axis":"w","val":25},{"p":"e","axis":"w","val":30},
{"p":"f","axis":"u","val":0},{"p":"f","axis":"u","val":10},{"p":"f","axis":"u","val":20},{"p":"f","axis":"u","val":30},{"p":"f","axis":"u","val":40},
{"p":"f","axis":"v","val":0},{"p":"f","axis":"v","val":20},{"p":"f","axis":"v","val":40},{"p":"f","axis":"v","val":60},
{"p":"f","axis":"w","val":10},{"p":"f","axis":"w","val":15},{"p":"f","axis":"w","val":20},{"p":"f","axis":"w","val":25},{"p":"f","axis":"w","val":30}
],
"cticks":[{"p":"e","val":5.1},{"p":"e","val":5.2},{"p":"e","val":5.3},{"p":"e","val":5.4},{"p":"e","val":5.5},{"p":"e","val":5.6},{"p":"e","val":5.7},{"p":"f","val":1.864},{"p":"f","val":1.866},{"p":"f","val":1.868},{"p":"f","val":1.87},{"p":"f","val":1.872},{"p":"f","val":1.874}],
"labels":[
{"kind":"h","text":"T/Nm","x":1002,"y":1005},{"kind":"h","text":"F","x":408,"y":992},{"kind":"hs","text":"a","x":430,"y":1009},{"kind":"h","text":"/kN","x":446,"y":992},
{"kind":"v","text":"K","x":142,"y":590},{"kind":"vs","text":"a","x":158,"y":560},{"kind":"v","text":"/10","x":142,"y":543},{"kind":"vs","text":"9","x":120,"y":492},{"kind":"v","text":"N.m","x":142,"y":472},{"kind":"vs","text":"-1","x":120,"y":398},
{"kind":"h","text":"T/Nm","x":2646,"y":1005},{"kind":"h","text":"M","x":2008,"y":992},{"kind":"hs","text":"x,y","x":2041,"y":1009},{"kind":"h","text":"/Nm","x":2076,"y":992},
{"kind":"v","text":"K","x":1762,"y":616},{"kind":"vs","text":"M","x":1778,"y":590},{"kind":"v","text":"/10","x":1762,"y":566},{"kind":"vs","text":"7","x":1743,"y":512},{"kind":"v","text":"(Nm/rad)","x":1762,"y":489},
{"kind":"h","text":"F","x":1022,"y":2206},{"kind":"hs","text":"a","x":1044,"y":2224},{"kind":"h","text":"/kN","x":1060,"y":2206},{"kind":"h","text":"M","x":361,"y":2195},{"kind":"hs","text":"x,y","x":394,"y":2213},{"kind":"h","text":"/Nm","x":429,"y":2195},
{"kind":"v","text":"K","x":142,"y":1790},{"kind":"vs","text":"a","x":158,"y":1760},{"kind":"v","text":"/10","x":142,"y":1743},{"kind":"vs","text":"9","x":120,"y":1692},{"kind":"v","text":"N.m","x":142,"y":1672},{"kind":"vs","text":"-1","x":120,"y":1598},
{"kind":"h","text":"F","x":2666,"y":2206},{"kind":"hs","text":"a","x":2688,"y":2224},{"kind":"h","text":"/kN","x":2704,"y":2206},{"kind":"h","text":"M","x":2008,"y":2195},{"kind":"hs","text":"x,y","x":2041,"y":2213},{"kind":"h","text":"/Nm","x":2076,"y":2195},
{"kind":"v","text":"K","x":1762,"y":1816},{"kind":"vs","text":"M","x":1778,"y":1790},{"kind":"v","text":"/10","x":1762,"y":1766},{"kind":"vs","text":"7","x":1743,"y":1712},{"kind":"v","text":"(Nm/rad)","x":1762,"y":1689},
{"kind":"h","text":"M","x":279,"y":3396},{"kind":"hs","text":"x,y","x":311,"y":3413},{"kind":"h","text":"/Nm","x":346,"y":3396},{"kind":"h","text":"F","x":891,"y":3408},{"kind":"hs","text":"a","x":914,"y":3425},{"kind":"h","text":"/kN","x":930,"y":3408},{"kind":"v","text":"T/Nm","x":142,"y":2930},
{"kind":"h","text":"M","x":1934,"y":3396},{"kind":"hs","text":"x,y","x":1967,"y":3413},{"kind":"h","text":"/Nm","x":2002,"y":3396},{"kind":"h","text":"F","x":2510,"y":3408},{"kind":"hs","text":"a","x":2534,"y":3425},{"kind":"h","text":"/kN","x":2550,"y":3408},{"kind":"v","text":"T/Nm","x":1781,"y":2930},
{"kind":"cb","text":"K","x":1437,"y":2998},{"kind":"cbs","text":"a","x":1453,"y":2978},{"kind":"cb","text":"/10","x":1437,"y":2966},{"kind":"cbs","text":"9","x":1425,"y":2924},{"kind":"cb","text":"N.m","x":1437,"y":2912},{"kind":"cbs","text":"-1","x":1425,"y":2857},
{"kind":"cb","text":"K","x":3110,"y":3024},{"kind":"cbs","text":"M","x":3126,"y":3002},{"kind":"cb","text":"/10","x":3110,"y":2987},{"kind":"cbs","text":"7","x":3096,"y":2946},{"kind":"cb","text":"(Nm/rad)","x":3110,"y":2932},
{"kind":"capl","text":"(","x":774,"y":1155},{"kind":"capb","text":"a","x":793,"y":1155},{"kind":"capr","text":")","x":812,"y":1155},
{"kind":"capl","text":"(","x":2408,"y":1155},{"kind":"capb","text":"b","x":2429,"y":1155},{"kind":"capr","text":")","x":2450,"y":1155},
{"kind":"capl","text":"(","x":776,"y":2359},{"kind":"capb","text":"c","x":793,"y":2359},{"kind":"capr","text":")","x":810,"y":2359},
{"kind":"capl","text":"(","x":2408,"y":2359},{"kind":"capb","text":"d","x":2429,"y":2359},{"kind":"capr","text":")","x":2450,"y":2359},
{"kind":"capl","text":"(","x":776,"y":3565},{"kind":"capb","text":"e","x":793,"y":3565},{"kind":"capr","text":")","x":810,"y":3565},
{"kind":"capl","text":"(","x":2417,"y":3565},{"kind":"capb","text":"f","x":2430,"y":3565},{"kind":"capr","text":")","x":2443,"y":3565}
]
},
"layer":[
{"data":{"name":"ticks"},"transform":[
{"calculate":"P[datum.p]","as":"q"},
{"calculate":"datum.axis=='u'?(datum.val-datum.q.x0)/(datum.q.x1-datum.q.x0):datum.axis=='v'?(datum.val-datum.q.y0)/(datum.q.y1-datum.q.y0):(datum.val-datum.q.z0)/(datum.q.z1-datum.q.z0)","as":"n"},
{"calculate":"datum.axis=='u'?datum.n:0","as":"a0"},{"calculate":"datum.axis=='u'?0:datum.axis=='v'?datum.n:1","as":"b0"},{"calculate":"datum.axis=='w'?datum.n:0","as":"c0"},
{"calculate":"datum.axis=='u'?datum.n:1","as":"a1"},{"calculate":"datum.axis=='v'?datum.n:1","as":"b1"},{"calculate":"datum.axis=='w'?datum.n:0","as":"c1"},
{"calculate":"datum.axis=='u'?1:datum.axis=='v'?datum.n:0","as":"b2"},{"calculate":"datum.axis=='w'?datum.n:1","as":"c2"},
{"calculate":"datum.q.ox+datum.a0*datum.q.ux+datum.b0*datum.q.vx","as":"X0"},{"calculate":"datum.q.oy+datum.a0*datum.q.uy+datum.b0*datum.q.vy+datum.c0*datum.q.wy","as":"Y0"},
{"calculate":"datum.q.ox+datum.a1*datum.q.ux+datum.b1*datum.q.vx","as":"X1"},{"calculate":"datum.q.oy+datum.a1*datum.q.uy+datum.b1*datum.q.vy+datum.c1*datum.q.wy","as":"Y1"},
{"calculate":"datum.q.ox+datum.a1*datum.q.ux+datum.b2*datum.q.vx","as":"X2"},{"calculate":"datum.q.oy+datum.a1*datum.q.uy+datum.b2*datum.q.vy+datum.c2*datum.q.wy","as":"Y2"},
{"calculate":"datum.axis=='u'?datum.X0-0.02*datum.q.vx:datum.X0-0.02*datum.q.ux","as":"Xt"},{"calculate":"datum.axis=='u'?datum.Y0-0.02*datum.q.vy:datum.Y0-0.02*datum.q.uy","as":"Yt"}
],"layer":[
{"mark":{"type":"rule","stroke":"#dedede","strokeWidth":2},"encoding":{"x":{"field":"X0","type":"quantitative","scale":{"domain":[0,3160],"nice":false},"axis":null},"y":{"field":"Y0","type":"quantitative","scale":{"domain":[3603,0],"nice":false},"axis":null},"x2":{"field":"X1"},"y2":{"field":"Y1"}}},
{"mark":{"type":"rule","stroke":"#dedede","strokeWidth":2},"encoding":{"x":{"field":"X1","type":"quantitative","scale":{"domain":[0,3160],"nice":false},"axis":null},"y":{"field":"Y1","type":"quantitative","scale":{"domain":[3603,0],"nice":false},"axis":null},"x2":{"field":"X2"},"y2":{"field":"Y2"}}},
{"mark":{"type":"rule","stroke":"#404040","strokeWidth":2},"encoding":{"x":{"field":"X0","type":"quantitative","scale":{"domain":[0,3160],"nice":false},"axis":null},"y":{"field":"Y0","type":"quantitative","scale":{"domain":[3603,0],"nice":false},"axis":null},"x2":{"field":"Xt"},"y2":{"field":"Yt"}}},
{"transform":[{"filter":"datum.axis=='u'"}],"mark":{"type":"text","font":"Liberation Sans","fontSize":33,"fill":"#404040","align":"left","baseline":"middle","dx":22,"dy":38},"encoding":{"x":{"field":"X0","type":"quantitative","scale":{"domain":[0,3160],"nice":false},"axis":null},"y":{"field":"Y0","type":"quantitative","scale":{"domain":[3603,0],"nice":false},"axis":null},"text":{"field":"val","type":"nominal"}}},
{"transform":[{"filter":"datum.axis=='v'"}],"mark":{"type":"text","font":"Liberation Sans","fontSize":33,"fill":"#404040","align":"right","baseline":"middle","dx":-27,"dy":31},"encoding":{"x":{"field":"X0","type":"quantitative","scale":{"domain":[0,3160],"nice":false},"axis":null},"y":{"field":"Y0","type":"quantitative","scale":{"domain":[3603,0],"nice":false},"axis":null},"text":{"field":"val","type":"nominal"}}},
{"transform":[{"filter":"datum.axis=='w'"}],"mark":{"type":"text","font":"Liberation Sans","fontSize":33,"fill":"#404040","align":"right","baseline":"middle","dx":-30,"dy":-10},"encoding":{"x":{"field":"X0","type":"quantitative","scale":{"domain":[0,3160],"nice":false},"axis":null},"y":{"field":"Y0","type":"quantitative","scale":{"domain":[3603,0],"nice":false},"axis":null},"text":{"field":"val","type":"nominal"}}}
]},
{"data":{"name":"panels"},"transform":[
{"calculate":"P[datum.p]","as":"q"},
{"calculate":"[[0,0,0,1,0,0],[0,0,0,0,1,0],[0,1,0,0,1,1],[0,1,1,1,1,1],[1,1,1,1,0,1],[1,0,1,1,0,0],[1,1,1,1,1,0],[1,1,0,0,1,0],[1,1,0,1,0,0]]","as":"s"},{"flatten":["s"]},
{"calculate":"datum.q.ox+datum.s[0]*datum.q.ux+datum.s[1]*datum.q.vx","as":"X0"},{"calculate":"datum.q.oy+datum.s[0]*datum.q.uy+datum.s[1]*datum.q.vy+datum.s[2]*datum.q.wy","as":"Y0"},
{"calculate":"datum.q.ox+datum.s[3]*datum.q.ux+datum.s[4]*datum.q.vx","as":"X1"},{"calculate":"datum.q.oy+datum.s[3]*datum.q.uy+datum.s[4]*datum.q.vy+datum.s[5]*datum.q.wy","as":"Y1"}
],"mark":{"type":"rule","stroke":"#404040","strokeWidth":2},"encoding":{"x":{"field":"X0","type":"quantitative","scale":{"domain":[0,3160],"nice":false},"axis":null},"y":{"field":"Y0","type":"quantitative","scale":{"domain":[3603,0],"nice":false},"axis":null},"x2":{"field":"X1"},"y2":{"field":"Y1"}}},
{"data":{"name":"surf"},"transform":[
{"flatten":["K"]},
{"window":[{"op":"row_number","as":"jn"}],"groupby":["p","X"]},
{"calculate":"P[datum.p]","as":"q"},
{"calculate":"datum.jn-1","as":"j"},
{"calculate":"datum.p=='f'?round(datum.X/1.88):round((datum.X-datum.q.x0)/(datum.q.x1-datum.q.x0)*20)","as":"I"},
{"calculate":"(datum.X-datum.q.x0)/(datum.q.x1-datum.q.x0)","as":"nu"},
{"calculate":"(datum.j*datum.q.ys-datum.q.y0)/(datum.q.y1-datum.q.y0)","as":"nv"},
{"calculate":"isValid(datum.T)?datum.T:datum.K","as":"Z"},
{"calculate":"datum.q.ox+datum.nu*datum.q.ux+datum.nv*datum.q.vx","as":"px"},
{"calculate":"datum.q.oy+datum.nu*datum.q.uy+datum.nv*datum.q.vy+(datum.Z-datum.q.z0)/(datum.q.z1-datum.q.z0)*datum.q.wy","as":"py"},
{"calculate":"(datum.K-datum.q.c0)/(datum.q.c1-datum.q.c0)","as":"t"}
],"layer":[
{"transform":[
{"calculate":"[0,1,2,3]","as":"c"},{"flatten":["c"]},
{"calculate":"datum.I-(datum.c==1||datum.c==2?1:0)","as":"ci"},{"calculate":"datum.j-(datum.c>=2?1:0)","as":"cj"},
{"filter":"datum.ci>=0&&datum.cj>=0&&datum.ci<20&&datum.cj<20"},
{"calculate":"datum.p+'_'+datum.ci+'_'+datum.cj","as":"cell"},
{"joinaggregate":[{"op":"mean","field":"t","as":"tc"},{"op":"count","as":"nc"}],"groupby":["cell"]},
{"filter":"datum.nc==4"}
],"mark":{"type":"line","strokeWidth":0,"strokeOpacity":0},"encoding":{"x":{"field":"px","type":"quantitative","scale":{"domain":[0,3160],"nice":false},"axis":null},"y":{"field":"py","type":"quantitative","scale":{"domain":[3603,0],"nice":false},"axis":null},"detail":{"field":"cell"},"order":{"field":"c"},"fill":{"field":"tc","type":"quantitative","legend":null,"scale":{"domain":[0,0.1,0.18,0.25,0.34,0.45,0.53,0.6,0.67,0.73,0.79,0.84,0.92,1],"range":["#352a87","#4237db","#4260ff","#2f80f2","#1c9fe0","#00b7c7","#22c2a3","#4dc985","#80cb5c","#b8bf35","#dcb92f","#fbb73a","#fad52d","#f8fa14"]}}}},
{"transform":[{"calculate":"datum.p+datum.I","as":"ln"}],"mark":{"type":"line","stroke":"#1a1a1a","strokeWidth":2},"encoding":{"x":{"field":"px","type":"quantitative","scale":{"domain":[0,3160],"nice":false},"axis":null},"y":{"field":"py","type":"quantitative","scale":{"domain":[3603,0],"nice":false},"axis":null},"detail":{"field":"ln"},"order":{"field":"j"}}},
{"transform":[{"calculate":"datum.p+datum.j","as":"ln"}],"mark":{"type":"line","stroke":"#1a1a1a","strokeWidth":2},"encoding":{"x":{"field":"px","type":"quantitative","scale":{"domain":[0,3160],"nice":false},"axis":null},"y":{"field":"py","type":"quantitative","scale":{"domain":[3603,0],"nice":false},"axis":null},"detail":{"field":"ln"},"order":{"field":"I"}}}
]},
{"data":{"values":[{"p":"e"},{"p":"f"}]},"transform":[{"calculate":"P[datum.p]","as":"q"},{"calculate":"datum.q.bx0","as":"X0"},{"calculate":"datum.q.bx1","as":"X1"},{"calculate":"datum.q.by0","as":"Y0"},{"calculate":"datum.q.by1","as":"Y1"}],
"mark":{"type":"rect","stroke":"#404040","strokeWidth":2,"fill":{"x1":0,"y1":1,"x2":0,"y2":0,"gradient":"linear","stops":[{"offset":0,"color":"#352a87"},{"offset":0.1,"color":"#4237db"},{"offset":0.18,"color":"#4260ff"},{"offset":0.25,"color":"#2f80f2"},{"offset":0.34,"color":"#1c9fe0"},{"offset":0.45,"color":"#00b7c7"},{"offset":0.53,"color":"#22c2a3"},{"offset":0.6,"color":"#4dc985"},{"offset":0.67,"color":"#80cb5c"},{"offset":0.73,"color":"#b8bf35"},{"offset":0.79,"color":"#dcb92f"},{"offset":0.84,"color":"#fbb73a"},{"offset":0.92,"color":"#fad52d"},{"offset":1,"color":"#f8fa14"}]}},
"encoding":{"x":{"field":"X0","type":"quantitative","scale":{"domain":[0,3160],"nice":false},"axis":null},"y":{"field":"Y0","type":"quantitative","scale":{"domain":[3603,0],"nice":false},"axis":null},"x2":{"field":"X1"},"y2":{"field":"Y1"}}},
{"data":{"name":"cticks"},"transform":[{"calculate":"P[datum.p]","as":"q"},{"calculate":"datum.q.by1+(datum.q.c1-datum.val)/(datum.q.c1-datum.q.c0)*(datum.q.by0-datum.q.by1)","as":"Y0"},{"calculate":"datum.q.bx1","as":"X1"},{"calculate":"datum.q.bx1-7","as":"X2"}],"layer":[
{"mark":{"type":"rule","stroke":"#404040","strokeWidth":2},"encoding":{"x":{"field":"X1","type":"quantitative","scale":{"domain":[0,3160],"nice":false},"axis":null},"y":{"field":"Y0","type":"quantitative","scale":{"domain":[3603,0],"nice":false},"axis":null},"x2":{"field":"X2"}}},
{"mark":{"type":"text","font":"Liberation Sans","fontSize":29,"fill":"#404040","align":"left","baseline":"middle","dx":14},"encoding":{"x":{"field":"X1","type":"quantitative","scale":{"domain":[0,3160],"nice":false},"axis":null},"y":{"field":"Y0","type":"quantitative","scale":{"domain":[3603,0],"nice":false},"axis":null},"text":{"field":"val","type":"nominal"}}}
]},
{"data":{"name":"labels"},"encoding":{"x":{"field":"x","type":"quantitative","scale":{"domain":[0,3160],"nice":false},"axis":null},"y":{"field":"y","type":"quantitative","scale":{"domain":[3603,0],"nice":false},"axis":null},"text":{"field":"text","type":"nominal"}},"layer":[
{"transform":[{"filter":"datum.kind=='h'"}],"mark":{"type":"text","font":"Liberation Sans","fontSize":37,"fill":"#404040","align":"left","baseline":"alphabetic"}},
{"transform":[{"filter":"datum.kind=='hs'"}],"mark":{"type":"text","font":"Liberation Sans","fontSize":26,"fill":"#404040","align":"left","baseline":"alphabetic"}},
{"transform":[{"filter":"datum.kind=='v'"}],"mark":{"type":"text","font":"Liberation Sans","fontSize":37,"fill":"#404040","align":"left","baseline":"alphabetic","angle":270}},
{"transform":[{"filter":"datum.kind=='vs'"}],"mark":{"type":"text","font":"Liberation Sans","fontSize":26,"fill":"#404040","align":"left","baseline":"alphabetic","angle":270}},
{"transform":[{"filter":"datum.kind=='cb'"}],"mark":{"type":"text","font":"Liberation Sans","fontSize":30,"fill":"#404040","align":"left","baseline":"alphabetic","angle":270}},
{"transform":[{"filter":"datum.kind=='cbs'"}],"mark":{"type":"text","font":"Liberation Sans","fontSize":20,"fill":"#404040","align":"left","baseline":"alphabetic","angle":270}},
{"transform":[{"filter":"datum.kind=='capl'"}],"mark":{"type":"text","font":"Liberation Serif","fontSize":76,"fill":"#000000","align":"right","baseline":"alphabetic"}},
{"transform":[{"filter":"datum.kind=='capr'"}],"mark":{"type":"text","font":"Liberation Serif","fontSize":76,"fill":"#000000","align":"left","baseline":"alphabetic"}},
{"transform":[{"filter":"datum.kind=='capb'"}],"mark":{"type":"text","font":"Liberation Serif","fontSize":76,"fontWeight":"bold","fill":"#000000","align":"center","baseline":"alphabetic"}}
]}
]}
